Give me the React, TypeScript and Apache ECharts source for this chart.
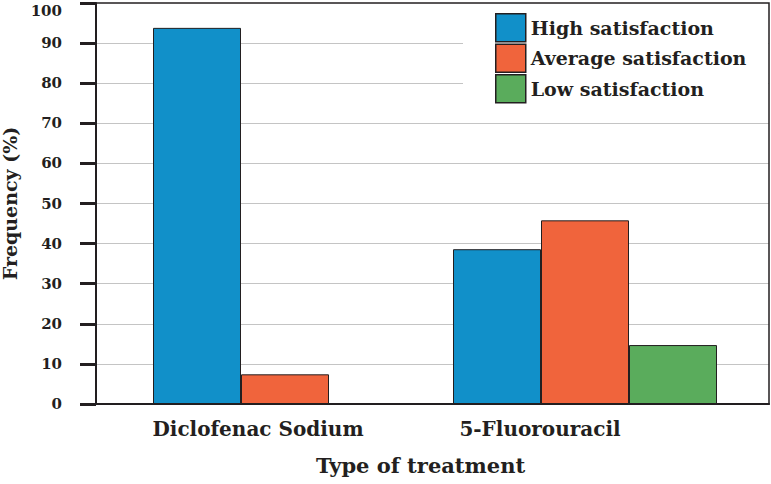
import React, { useEffect, useRef } from "react";
import * as echarts from "echarts";

const categories = ["Diclofenac Sodium", "5-Fluorouracil"];
const seriesNames = ["High satisfaction", "Average satisfaction", "Low satisfaction"];
const highValues = [93.8, 38.6];
const averageValues = [7.4, 45.8];
const lowValues = [0, 14.7];
const colors = ["#1190c9", "#f0643c", "#5aac5c"];

const FONT = "DejaVu Serif";
const DARK = "#231f20";

export default function App() {
  const ref = useRef<HTMLDivElement>(null);
  useEffect(() => {
    if (!ref.current) return;
    const chart = echarts.init(ref.current, undefined, { renderer: "svg" });
    const values = [highValues, averageValues, lowValues];
    const tickText = { fontFamily: FONT, fontWeight: "bold", fontSize: 15, color: DARK };
    chart.setOption({
      animation: false,
      backgroundColor: "#ffffff",
      grid: [
        { left: 96, right: 2, top: 3, bottom: 80, show: true, borderColor: DARK, borderWidth: 1.5, backgroundColor: "transparent", z: 10, containLabel: false, outerBoundsMode: "none" },
        { left: 135, right: 36, top: 3, bottom: 80, show: false, containLabel: false, outerBoundsMode: "none" },
      ],
      legend: {
        orient: "vertical",
        left: 463,
        top: 3,
        backgroundColor: "#ffffff",
        padding: [10, 22, 6, 32],
        itemWidth: 30,
        itemHeight: 28,
        itemGap: 1,
        icon: "rect",
        itemStyle: { borderColor: DARK, borderWidth: 1.5 },
        textStyle: { fontFamily: FONT, fontWeight: "bold", fontSize: 19, color: DARK },
        data: seriesNames,
      },
      xAxis: [
        {
          type: "category",
          gridIndex: 0,
          data: categories,
          axisLine: { show: true, lineStyle: { color: DARK, width: 2 } },
          axisTick: { show: false },
          axisLabel: { show: false },
          splitLine: { show: false },
          name: "Type of treatment",
          nameLocation: "middle",
          nameGap: 51,
          nameTextStyle: { fontFamily: FONT, fontWeight: "bold", fontSize: 21, color: DARK, padding: [0, 24, 0, 0] },
        },
        {
          type: "category",
          gridIndex: 1,
          data: categories,
          axisLine: { show: false },
          axisTick: { show: false },
          splitLine: { show: false },
          axisLabel: {
            margin: 15,
            formatter: (v: string, i: number) => (i === 0 ? `{a|${v}}` : `{b|${v}}`),
            rich: {
              a: { fontFamily: FONT, fontWeight: "bold", fontSize: 20, color: DARK, padding: [0, 54, 0, 0] },
              b: { fontFamily: FONT, fontWeight: "bold", fontSize: 20, color: DARK, padding: [0, 90, 0, 0] },
            },
          },
        },
      ],
      yAxis: [
        {
          type: "value",
          gridIndex: 0,
          min: 0,
          max: 100,
          interval: 10,
          axisLine: { show: true, lineStyle: { color: DARK, width: 2 } },
          axisTick: { show: true, inside: false, length: 16, lineStyle: { color: DARK, width: 3 } },
          axisLabel: {
            margin: 34,
            formatter: (v: number) => (v === 100 ? `{t|${v}}` : `{n|${v}}`),
            rich: {
              t: { ...tickText, padding: [16, 0, 0, 0] },
              n: { ...tickText },
            },
          },
          splitLine: { show: true, showMinLine: false, showMaxLine: false, lineStyle: { color: "#c4c4c4", width: 1 } },
          name: "Frequency (%)",
          nameLocation: "middle",
          nameGap: 62,
          nameTextStyle: { fontFamily: FONT, fontWeight: "bold", fontSize: 19, color: DARK },
        },
        {
          type: "value",
          gridIndex: 1,
          min: 0,
          max: 100,
          interval: 10,
          show: false,
        },
      ],
      series: seriesNames.map((name, i) => ({
        name,
        type: "bar",
        xAxisIndex: 1,
        yAxisIndex: 1,
        data: values[i],
        barWidth: 88,
        barGap: "0%",
        itemStyle: { color: colors[i], borderColor: DARK, borderWidth: 1 },
      })),
    });
    return () => chart.dispose();
  }, []);
  return <div ref={ref} style={{ width: 771, height: 484, position: "absolute", left: 0, top: 0 }} />;
}
